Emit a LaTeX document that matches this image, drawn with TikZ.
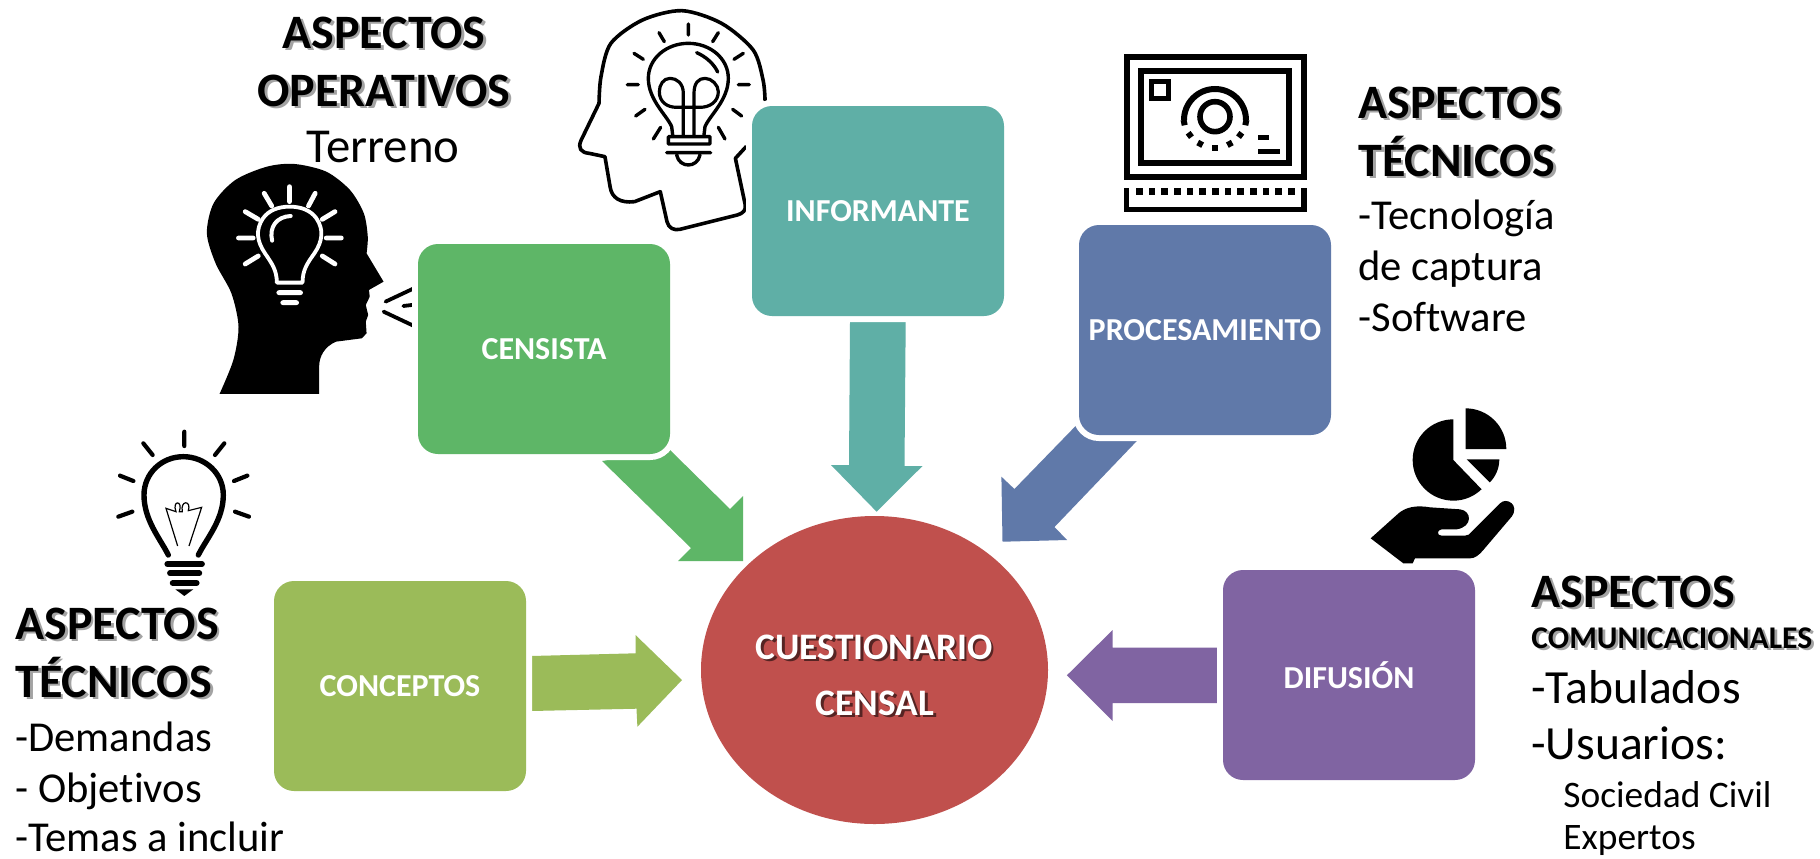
\documentclass[tikz,border=0pt]{standalone}
\usepackage{fontspec}
\setmainfont[Ligatures=NoCommon]{Carlito}
\newcommand\fsz[1]{\fontsize{#1}{#1}\selectfont}
\newcommand\shd[2][black!36]{\leavevmode\rlap{\hspace{1.4pt}\raisebox{-1.4pt}{\textcolor{#1}{#2}}}#2}
\definecolor{cgreen}{RGB}{94,182,103}
\definecolor{cteal}{RGB}{95,175,166}
\definecolor{cblue}{RGB}{96,121,169}
\definecolor{cpurple}{RGB}{128,100,162}
\definecolor{colive}{RGB}{155,187,89}
\definecolor{cred}{RGB}{192,80,77}
\tikzset{
  x=0.5pt,y=-0.5pt,
  boxn/.style={rounded corners=10pt,minimum width=126pt,minimum height=105pt,inner sep=0pt,
    text=white,font=\bfseries\fsz{16},preaction={draw=white,line width=6pt},fill=#1},
  hd/.style={anchor=base,inner sep=0pt,font=\bfseries\fsz{24}},
  hdl/.style={hd,anchor=base west},
  tx/.style={anchor=base west,inner sep=0pt,font=\fsz{21.3}},
  ico/.style={draw=black,line cap=round,line join=round},
  wico/.style={draw=white,line cap=round,line join=round},
}
\begin{document}
\begin{tikzpicture}
\useasboundingbox (0,0) rectangle (1820,858);
\fill[white] (0,0) rectangle (1820,858);
% block arrows
\fill[cgreen] (602,461) -- (670,450) -- (730,509) -- (743,496) -- (743,561) -- (678,561) -- (691,548) -- cycle;
\fill[cteal] (850,322) -- (905.7,322) -- (904.5,466) -- (922.5,466) -- (876.6,511.7) -- (831,465) -- (849,465) -- cycle;
\fill[cblue] (1075.6,426) -- (1136.8,441) -- (1054.5,527) -- (1067,540) -- (1002.5,541.7) -- (1001.4,476.7) -- (1014.4,489) -- cycle;
\fill[colive] (530.8,656) -- (635.5,653.3) -- (635.5,635) -- (682,680) -- (637.4,726.7) -- (636.5,708.7) -- (530.8,711) -- cycle;
\fill[cpurple] (1218,647.7) -- (1112.6,647.7) -- (1112.6,630) -- (1066.9,675.3) -- (1112.6,721) -- (1112.6,703) -- (1218,703) -- cycle;
% black head icon
\begin{scope}[shift={(180,0)},xscale=.3953,yscale=.3333]
\fill[black] (100,1182) -- plot[smooth] coordinates {(100,1182) (135,1080) (148,980) (130,880) (90,790) (68,700) (85,610) (140,540) (220,500) (290,492) (370,515) (430,570) (465,640) (475,710) (472,760)} -- (515,845) -- (478,870) -- (480,890) -- (470,915) -- (476,945) -- (470,965) -- (472,1000) -- (460,1015) -- (395,1025) .. controls (365,1040) and (352,1070) .. (352,1100) -- (352,1182) -- cycle;
\draw[wico,line width=1.9pt] (245,848) .. controls (245,810) and (232,790) .. (215,760) .. controls (195,725) and (190,690) .. (210,655) .. controls (225,630) and (250,620) .. (277,620) .. controls (305,620) and (330,630) .. (345,655) .. controls (365,690) and (360,725) .. (340,760) .. controls (322,790) and (310,810) .. (310,848) -- cycle;
\draw[wico,line width=2pt] (233,722) .. controls (225,680) and (245,650) .. (280,648);
\draw[wico,line width=2.4pt] (277,560)--(277,605) (213,580)--(232,618) (342,580)--(325,618) (165,635)--(198,658) (392,635)--(360,658) (148,714)--(185,714) (370,714)--(408,714) (165,792)--(198,768) (392,792)--(360,768) (250,878)--(305,878) (260,908)--(295,908);
\draw[ico,line width=1.9pt] (520,905)--(590,866) (515,935)--(590,977) (565,918)--(587,915);
\end{scope}
% outline head icon
\begin{scope}[shift={(180,0)},xscale=.3953,yscale=.3333]
\draw[ico,line width=1.8pt] plot[smooth] coordinates {(1480,300) (1475,240) (1450,150) (1370,70) (1270,32) (1170,60) (1090,130) (1065,230) (1060,310)} -- (1015,420) .. controls (1005,445) and (1015,458) .. (1035,460) -- (1075,470) -- (1088,560) .. controls (1092,595) and (1115,610) .. (1150,605) -- (1215,575) -- (1232,665) .. controls (1236,685) and (1250,692) .. (1265,688) -- (1410,645) .. controls (1425,640) and (1432,630) .. (1430,615) -- (1405,475) -- (1432,440);
\end{scope}
\begin{scope}[shift={(620,20)},scale=.3333]
\draw[ico,line width=1.7pt] (158,345) -- (155,320) .. controls (140,285) and (85,240) .. (85,175) .. controls (85,115) and (140,70) .. (205,70) .. controls (270,70) and (325,115) .. (325,175) .. controls (325,240) and (270,285) .. (255,320) -- (252,345);
\draw[ico,line width=1.7pt] (145,350) rectangle (270,372) (140,398)--(272,398) (170,405) .. controls (178,445) and (232,445) .. (240,405);
\draw[ico,line width=1.6pt] (190,345)--(190,220) .. controls (190,190) and (170,175) .. (150,175) .. controls (130,175) and (118,195) .. (118,215) .. controls (118,245) and (140,262) .. (170,262) -- (240,262) .. controls (270,262) and (295,245) .. (295,215) .. controls (295,195) and (275,175) .. (255,175) .. controls (235,175) and (222,190) .. (222,220) -- (222,345);
\draw[ico,line width=1.7pt] (230,98) .. controls (258,110) and (282,132) .. (293,156);
\draw[ico,line width=1.7pt] (205,12)--(205,45) (117,38)--(133,65) (295,38)--(278,65) (42,100)--(70,118) (370,100)--(342,118) (22,194)--(55,194) (355,194)--(388,194) (47,288)--(75,268) (365,288)--(338,268) (100,357)--(122,322) (315,357)--(295,322);
\end{scope}
% monitor icon
\begin{scope}[shift={(1080,30)},scale=.3333]
\draw[line width=3pt] (140,80) rectangle (672,442);
\draw[line width=3pt] (183,122) rectangle (628,398);
\draw[line width=2.7pt] (215,155) rectangle (265,205);
\draw[line width=2.8pt] (405,260) circle (45);
\draw[line width=3pt] (312,270) arc[start angle=180,end angle=360,radius=93];
\foreach \a in {12,37,62,90,118,143,168}
  \draw[line width=3pt] (405,258) ++({\a-5}:95) arc[start angle={\a-5},end angle={\a+5},radius=95];
\draw[line width=2.7pt] (535,322)--(568,322) (535,365)--(600,365);
\foreach \k in {0,...,12}
  \fill[black] ({168+38*\k},475) rectangle ++(20,20);
\draw[line width=2.7pt] (140,475) -- (140,538) -- (672,538) -- (672,475);
\end{scope}
% pie-in-hand icon
\begin{scope}[shift={(1340,390)},scale=.3333]
\fill[black] (340,210) -- (340,88) arc[start angle=270,end angle=46,radius=122] -- cycle;
\fill[black] (377,177) -- (377,55) arc[start angle=270,end angle=360,radius=122] -- cycle;
\fill[black] (380,208) -- (478,208) arc[start angle=0,end angle=45,radius=98] -- cycle;
\fill[black] (92,445) -- (170,375) .. controls (195,350) and (230,345) .. (270,352) -- (360,358) .. controls (395,362) and (400,410) .. (350,418) -- (305,418) .. controls (290,420) and (290,437) .. (305,437) -- (375,437) .. controls (385,437) and (390,432) .. (395,425) -- (480,340) .. controls (500,320) and (540,345) .. (515,380) -- (430,480) .. controls (415,497) and (405,505) .. (390,505) -- (225,505) -- (218,520) -- (190,520) -- cycle;
\end{scope}
% bulb icon
\begin{scope}[shift={(90,420)},scale=.3333]
\draw[ico,line width=2.7pt] (235,405) .. controls (210,355) and (162,300) .. (162,225) .. controls (162,160) and (215,110) .. (280,110) .. controls (345,110) and (400,160) .. (400,225) .. controls (400,300) and (350,355) .. (325,405);
\draw[ico,line width=2.1pt] (283,35)--(283,78) (160,70)--(188,105) (403,70)--(375,105) (90,167)--(130,183) (472,167)--(432,183) (85,290)--(127,275) (477,290)--(435,275);
\draw[ico,line width=2.9pt] (232,432)--(336,432) (240,460)--(328,460) (248,489)--(320,489);
\fill[black] (256,508) -- (310,508) -- (283,528) -- cycle;
\draw[black,line width=.6pt] (263,378)--(228,265) -- (258,275) .. controls (245,240) and (280,240) .. (268,275) -- (277,275) .. controls (270,240) and (305,240) .. (295,272) -- (335,262) -- (297,378);
\end{scope}
% boxes
\node[boxn=cgreen] (censista) at (544,349) {CENSISTA};
\node[boxn=cteal] (informante) at (878,211) {INFORMANTE};
\node[boxn=cblue] (procesamiento) at (1205,330) {PROCESAMIENTO};
\node[boxn=cpurple] (difusion) at (1349,675) {DIFUSIÓN};
\node[boxn=colive] (conceptos) at (400,686) {CONCEPTOS};
\fill[cred] (874.5,670) ellipse [x radius=173.5,y radius=154];
\node[anchor=base,inner sep=0,text=white,font=\bfseries\fsz{18.7}] (cuest) at (874,659) {\shd[black!55!cred]{CUESTIONARIO}};
\node[anchor=base,inner sep=0,text=white,font=\bfseries\fsz{18.7}] (censal) at (875,715) {\shd[black!55!cred]{CENSAL}};
% texts: top
\node[hd] (t1) at (384,48) {\shd{ASPECTOS}};
\node[hd] (t2) at (384,106) {\shd{OPERATIVOS}};
\node[anchor=base,inner sep=0,font=\fsz{24.4}] (t3) at (383,162) {Terreno};
% texts: right top
\node[hdl] (r1) at (1358,118) {\shd{ASPECTOS}};
\node[hdl] (r2) at (1358,176) {\shd{TÉCNICOS}};
\node[tx] (r3) at (1358,229) {-Tecnología};
\node[tx] (r4) at (1358,280) {de captura};
\node[tx] (r5) at (1358,331) {-Software};
% texts: right bottom
\node[hdl] (b1) at (1531,607) {\shd{ASPECTOS}};
\node[hdl,font=\bfseries\fsz{15.8}] (b2) at (1531,648) {\shd{COMUNICACIONALES}};
\node[tx,font=\fsz{23.8}] (b3) at (1531,703) {-Tabulados};
\node[tx,font=\fsz{23.8}] (b4) at (1531,759) {-Usuarios:};
\node[tx,font=\fsz{18.7}] (b5) at (1563,807) {Sociedad Civil};
\node[tx,font=\fsz{18.7}] (b6) at (1563,849) {Expertos};
% texts: left bottom
\node[hdl] (l1) at (15,639) {\shd{ASPECTOS}};
\node[hdl] (l2) at (15,697) {\shd{TÉCNICOS}};
\node[tx] (l3) at (15,751) {-Demandas};
\node[tx] (l4) at (15,802) {- Objetivos};
\node[tx] (l5) at (15,851) {-Temas a incluir};
\end{tikzpicture}
\end{document}
